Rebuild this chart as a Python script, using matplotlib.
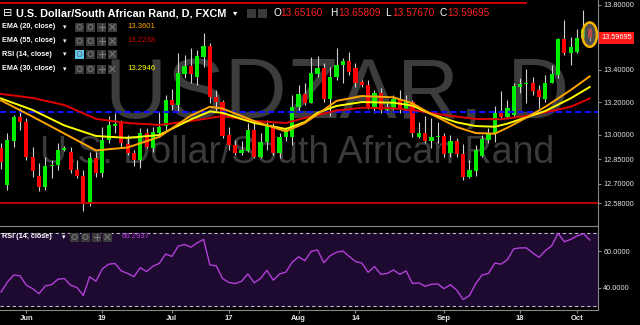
import matplotlib.pyplot as plt
from matplotlib.patches import Ellipse, Rectangle
from matplotlib.lines import Line2D
from matplotlib.transforms import blended_transform_factory
import numpy as np

plt.rcParams['font.family'] = ['Liberation Sans', 'DejaVu Sans']

# daily USD/ZAR candles (late May .. early Oct)
opens = [12.920, 12.688, 12.965, 13.108, 13.080, 12.862, 12.747, 12.681, 12.806, 12.815,
         12.907, 12.895, 12.784, 12.749, 12.583, 12.860, 12.764, 12.969, 13.055, 13.076,
         12.944, 12.887, 12.842, 13.010, 12.918, 13.014, 13.055, 13.215, 13.182, 13.375,
         13.425, 13.355, 13.482, 13.548, 13.232, 13.205, 13.000, 12.936, 12.887, 12.901,
         13.030, 12.866, 12.953, 13.055, 12.887, 12.985, 12.985, 13.170, 13.252, 13.199,
         13.375, 13.410, 13.219, 13.355, 13.431, 13.458, 13.410, 13.326, 13.308, 13.170,
         13.256, 13.150, 13.164, 13.219, 13.158, 13.205, 12.989, 13.014, 12.965, 12.985,
         12.993, 12.886, 12.965, 12.882, 12.739, 12.780, 12.870, 12.969, 13.014, 13.133,
         13.108, 13.123, 13.297, 13.312, 13.318, 13.277, 13.219, 13.322, 13.369, 13.589,
         13.507, 13.513, 13.595, 13.6516]
highs = [12.950, 13.010, 13.123, 13.164, 13.102, 12.928, 12.825, 12.866, 12.846, 12.948,
         12.930, 12.928, 12.846, 12.784, 12.897, 12.897, 13.051, 13.113, 13.133, 13.092,
         13.000, 12.907, 13.041, 13.041, 13.051, 13.143, 13.246, 13.281, 13.503, 13.492,
         13.533, 13.523, 13.626, 13.564, 13.277, 13.215, 13.051, 12.969, 12.965, 13.072,
         13.092, 13.010, 13.092, 13.072, 13.010, 13.051, 13.246, 13.308, 13.322, 13.482,
         13.486, 13.441, 13.421, 13.533, 13.472, 13.513, 13.445, 13.338, 13.338, 13.277,
         13.287, 13.195, 13.246, 13.277, 13.246, 13.215, 13.082, 13.113, 13.102, 13.082,
         13.010, 13.000, 12.979, 12.944, 12.846, 12.938, 13.000, 13.041, 13.178, 13.273,
         13.215, 13.318, 13.349, 13.404, 13.359, 13.307, 13.369, 13.431, 13.595, 13.708,
         13.605, 13.650, 13.769, 13.65809]
lows = [12.790, 12.661, 12.928, 13.030, 12.846, 12.743, 12.651, 12.661, 12.733, 12.784,
        12.900, 12.764, 12.733, 12.528, 12.560, 12.743, 12.743, 12.948, 13.010, 12.918,
        12.877, 12.805, 12.794, 12.918, 12.897, 13.000, 13.030, 13.154, 13.143, 13.349,
        13.318, 13.308, 13.421, 13.195, 13.143, 12.979, 12.907, 12.877, 12.877, 12.897,
        12.856, 12.856, 12.907, 12.877, 12.856, 12.965, 12.938, 13.143, 13.184, 13.195,
        13.359, 13.205, 13.113, 13.338, 13.318, 13.369, 13.297, 13.297, 13.158, 13.137,
        13.133, 13.133, 13.150, 13.133, 13.150, 12.989, 12.979, 12.948, 12.918, 12.948,
        12.866, 12.866, 12.866, 12.722, 12.733, 12.747, 12.866, 12.948, 12.958, 13.102,
        13.102, 13.117, 13.256, 13.195, 13.246, 13.164, 13.205, 13.318, 13.349, 13.492,
        13.431, 13.507, 13.595, 13.5767]
closes = [12.830, 12.969, 13.108, 13.080, 12.862, 12.780, 12.681, 12.811, 12.815, 12.907,
          12.920, 12.784, 12.749, 12.583, 12.860, 12.764, 12.969, 13.061, 13.067, 12.948,
          12.891, 12.842, 13.010, 12.928, 13.020, 13.051, 13.215, 13.182, 13.380, 13.425,
          13.375, 13.486, 13.548, 13.232, 13.203, 12.994, 12.938, 12.887, 12.907, 13.030,
          12.866, 12.953, 13.055, 12.887, 12.985, 13.030, 13.170, 13.252, 13.199, 13.380,
          13.410, 13.219, 13.359, 13.431, 13.458, 13.390, 13.322, 13.306, 13.164, 13.256,
          13.150, 13.164, 13.219, 13.158, 13.211, 13.010, 13.014, 12.965, 12.989, 12.993,
          12.882, 12.965, 12.882, 12.743, 12.784, 12.907, 12.973, 13.014, 13.133, 13.108,
          13.164, 13.301, 13.314, 13.322, 13.273, 13.232, 13.322, 13.375, 13.589, 13.507,
          13.544, 13.595, 13.650, 13.59695]

# moving averages (candle index -> value)
ema55_idx = [0, 5, 10, 15, 20, 25, 30, 35, 40, 45, 48, 50, 53, 57, 62, 66, 70, 75, 79, 83, 87, 90, 93]
ema55 = [13.252, 13.227, 13.184, 13.098, 13.073, 13.061, 13.085, 13.116, 13.085, 13.073, 13.104,
         13.122, 13.150, 13.167, 13.164, 13.147, 13.122, 13.098, 13.096, 13.116, 13.147, 13.173, 13.2238]
ema_idx = [0, 5, 10, 15, 20, 25, 30, 33, 35, 40, 45, 48, 50, 53, 57, 62, 65, 68, 72, 75, 78, 80, 83, 86, 90, 93]
ema30 = [13.224, 13.153, 13.058, 12.993, 12.981, 12.999, 13.095, 13.144, 13.135, 13.073, 13.036, 13.079, 13.136,
         13.178, 13.202, 13.198, 13.180, 13.127, 13.077, 13.054, 13.050, 13.069, 13.108, 13.147, 13.225, 13.2946]
ema20 = [13.212, 13.112, 13.008, 12.904, 12.922, 12.987, 13.119, 13.173, 13.162, 13.085, 13.021, 13.073, 13.127,
         13.209, 13.239, 13.231, 13.194, 13.127, 13.048, 13.011, 13.007, 13.044, 13.106, 13.173, 13.276, 13.3601]

rsi = [37.5, 43.0, 46.9, 46.5, 41.3, 39.4, 36.6, 40.9, 41.6, 44.6,
       45.0, 41.3, 40.0, 35.6, 46.0, 43.5, 50.3, 52.9, 53.3, 49.2,
       47.8, 46.0, 51.0, 48.8, 51.8, 53.3, 58.5, 57.2, 62.9, 63.8,
       62.3, 64.7, 66.6, 52.5, 52.0, 45.0, 42.8, 42.2, 43.5, 47.5,
       42.6, 45.0, 49.5, 44.1, 47.5, 48.5, 54.0, 57.0, 54.8, 60.0,
       60.8, 53.7, 57.6, 59.5, 60.2, 57.2, 54.4, 53.5, 48.4, 51.6,
       47.3, 47.8, 49.7, 47.3, 49.2, 42.2, 42.6, 40.7, 41.8, 42.0,
       39.4, 41.6, 38.5, 33.4, 35.6, 42.2, 46.9, 47.8, 53.5, 52.9,
       55.4, 61.4, 61.9, 61.9, 59.1, 56.7, 60.4, 63.1, 70.0, 65.3,
       66.6, 68.5, 69.8, 66.2937]

resistance = 13.81
support = 12.58
level = 13.138

date_pos = [4, 16, 27, 36, 47, 56, 70, 82, 91]
date_labels = ['Jun', '19', 'Jul', '17', 'Aug', '14', 'Sep', '18', 'Oct']
price_ticks = [12.58, 12.70, 12.85, 13.00, 13.20, 13.40, 13.80]
rsi_ticks = [40, 60]

W, H = 640, 325
def px_rect(x0, y0, x1, y1):
    return [x0 / W, 1 - y1 / H, (x1 - x0) / W, (y1 - y0) / H]

fig = plt.figure(figsize=(6.4, 3.25), dpi=100, facecolor='black')
ax = fig.add_axes(px_rect(0, 0, 598, 226), facecolor='black')
ax2 = fig.add_axes(px_rect(0, 226, 598, 310), facecolor='black', sharex=ax)

n = len(closes)
idx = np.arange(n)
o = np.array(opens); c = np.array(closes)
up = c >= o
cols = np.where(up, '#00ee00', '#ff0000')

# watermark
ax.text(0.564, 0.478, 'USDZAR, D', transform=ax.transAxes, ha='center', va='baseline',
        fontsize=62, color='#3c3c3c', zorder=0)
ax.text(0.4975, 0.279, 'U.S. Dollar/South African Rand', transform=ax.transAxes, ha='center',
        va='baseline', fontsize=27, color='#3a3a3a', zorder=0)

# candles
ax.vlines(idx, lows, highs, color='#d0d0d0', lw=0.8, zorder=2)
body = np.maximum(np.abs(c - o), 0.006)
ax.bar(idx, body, bottom=np.minimum(o, c), width=0.66, color=cols, zorder=3)

# levels
ax.axhline(level, color='#1010ff', lw=1.5, dashes=(3, 1.6), zorder=4)
ax.axhline(support, color='#d00000', lw=1.3, zorder=4)
ax.plot([-1, 83], [resistance, resistance], color='#e00000', lw=1.3, zorder=4)

# EMAs
ax.plot(ema55_idx, ema55, color='#e00000', lw=1.4, zorder=5)
ax.plot(ema_idx, ema30, color='#ffff00', lw=1.4, zorder=5)
ax.plot(ema_idx, ema20, color='#ffa500', lw=1.4, zorder=5)

# highlight last candle
mid = (highs[-1] + lows[-1]) / 2
ax.add_patch(Ellipse((n - 1, mid), 2.3, 0.15, facecolor='#808080', alpha=0.6, edgecolor='none', zorder=6))
ax.add_patch(Ellipse((n - 1, mid), 2.3, 0.15, facecolor='none', edgecolor='#f5b400', lw=1.8, zorder=7))

ax.set_xlim(-0.16, 94.31)
ax.set_ylim(12.4383, 13.8308)
ax.yaxis.tick_right()
ax.set_yticks(price_ticks)
ax.set_yticklabels(['%.5f' % v for v in price_ticks])
ax.tick_params(axis='y', colors='#888888', labelcolor='#e0e0e0', labelsize=5.3, length=2.2, pad=1.5, width=0.8)
ax.tick_params(axis='x', bottom=False, labelbottom=False)
for s in ['top', 'left', 'bottom']:
    ax.spines[s].set_visible(False)
ax.spines['right'].set_color('#888888')

tr = blended_transform_factory(ax.transAxes, ax.transData)
ax.text(1.006, closes[-1], '%.5f' % closes[-1], transform=tr, ha='left', va='center', fontsize=5.3,
        color='white', bbox=dict(facecolor='#ff1a1a', edgecolor='none', pad=1.6), clip_on=False)

# RSI panel
ax2.axhspan(30, 70, color='#1e0a30', zorder=0)
ax2.axhline(70, color='#bbbbbb', lw=0.8, dashes=(3, 2.5))
ax2.axhline(30, color='#bbbbbb', lw=0.8, dashes=(3, 2.5))
ax2.plot(idx, rsi, color='#b23fd8', lw=1.0)
ax2.set_ylim(27.6, 74)
ax2.yaxis.tick_right()
ax2.set_yticks(rsi_ticks)
ax2.set_yticklabels(['%.4f' % v for v in rsi_ticks])
ax2.tick_params(axis='y', colors='#888888', labelcolor='#e0e0e0', labelsize=5.3, length=2.2, pad=1.5, width=0.8)
ax2.set_xticks(date_pos)
ax2.set_xticklabels(date_labels, fontweight='bold')
ax2.tick_params(axis='x', colors='#888888', labelcolor='#e8e8e8', labelsize=5.5, length=2, pad=1.5, width=0.8)
ax2.spines['left'].set_visible(False)
for s in ['top', 'right', 'bottom']:
    ax2.spines[s].set_color('#888888')

# header / legend
def ftext(x, y, s, **kw):
    fig.text(x / W, 1 - y / H, s, va='center', ha='left', **kw)

def fline(xs, ys, **kw):
    fig.lines.append(Line2D([x / W for x in xs], [1 - y / H for y in ys], transform=fig.transFigure, **kw))

def icons(x0, y, first='#3a3a3a'):
    for i in range(4):
        colr = first if i == 0 else '#3a3a3a'
        fig.patches.append(Rectangle(((x0 + 11 * i) / W, 1 - (y + 4.5) / H), 9 / W, 9 / H,
                                     transform=fig.transFigure, facecolor=colr, edgecolor='none'))
    cx = x0 + 22 + 4.5
    fline([cx - 3, cx + 3], [y, y], color='#777777', lw=0.8)
    fline([cx, cx], [y - 3, y + 3], color='#777777', lw=0.8)
    cx = x0 + 33 + 4.5
    fline([cx - 2.5, cx + 2.5], [y - 2.5, y + 2.5], color='#777777', lw=0.8)
    fline([cx - 2.5, cx + 2.5], [y + 2.5, y - 2.5], color='#777777', lw=0.8)
    for i in range(2):
        cx = x0 + 11 * i + 4.5
        fig.patches.append(Ellipse((cx / W, 1 - y / H), 5 / W, 5 / H, transform=fig.transFigure,
                                   facecolor='none', edgecolor='#777777', lw=0.7))

ftext(3, 13, '⊟', fontsize=8, color='white', family=['DejaVu Sans'])
ftext(16, 13, 'U.S. Dollar/South African Rand, D, FXCM', fontsize=7.8, color='white', fontweight='bold')
ftext(233, 13, '▾', fontsize=6, color='white', family=['DejaVu Sans'])
for x in [247, 258]:
    fig.patches.append(Rectangle((x / W, 1 - 17.5 / H), 9 / W, 9 / H, transform=fig.transFigure,
                                 facecolor='#3a3a3a', edgecolor='none'))
for lab, x, val, xv in [('O', 273, opens[-1], 280), ('H', 330, highs[-1], 338),
                        ('L', 385, lows[-1], 392), ('C', 440, closes[-1], 447)]:
    ftext(x, 13, lab, fontsize=7.3, color='white')
    ftext(xv, 13, '%.5f' % val, fontsize=7.3, color='#ff2020')

rows = [('EMA (20, close)', 27, '13.3601', '#ffa500'),
        ('EMA (55, close)', 41, '13.2238', '#cc0000'),
        ('RSI (14, close)', 54, None, None),
        ('EMA (30, close)', 69, '13.2946', '#ffff00')]
for lab, y, val, vc in rows:
    ftext(2, y, lab, fontsize=5.2, color='white', fontweight='bold')
    ftext(63, y, '▾', fontsize=5, color='white', family=['DejaVu Sans'])
    icons(75, y, first='#5bc8f0' if val is None else '#3a3a3a')
    if val:
        ftext(127, y, val, fontsize=5.6, color=vc)

ftext(2, 237, 'RSI (14, close)', fontsize=5.2, color='white', fontweight='bold')
ftext(62, 237, '▾', fontsize=5, color='white', family=['DejaVu Sans'])
icons(70, 237)
ftext(122, 237, '%.4f' % rsi[-1], fontsize=5.6, color='#b23fd8')

fig.savefig('out.png', dpi=100, facecolor='black')
